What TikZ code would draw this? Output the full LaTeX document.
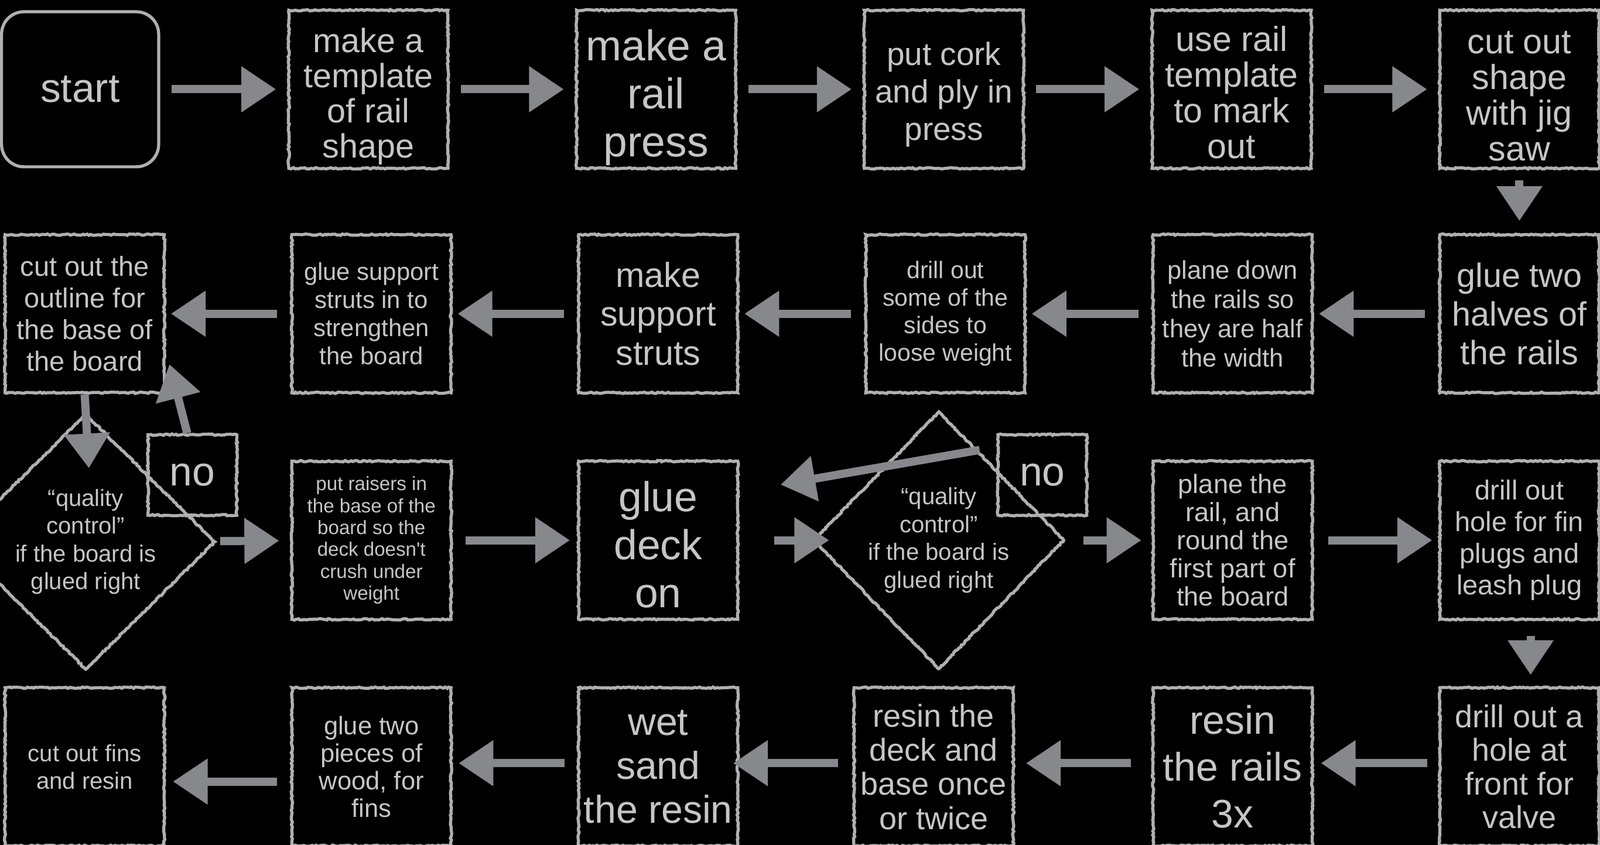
\documentclass[tikz,border=0pt]{standalone}
\usepackage{fontspec}
\newfontfamily\chalk{Liberation Sans}
\usetikzlibrary{arrows.meta,shapes.geometric,decorations.pathmorphing}
\definecolor{edgec}{HTML}{B0B0B0}
\definecolor{txtc}{HTML}{C6C6C6}
\definecolor{arrc}{HTML}{87888C}
\begin{document}
\begin{tikzpicture}[x=1pt,y=-1pt,
  chalkline/.style={decorate, decoration={random steps,segment length=2pt,amplitude=0.7pt}},
  fs/.style 2 args={font=\chalk\fontsize{#1}{#2}\selectfont},
  plainbox/.style={draw=edgec, line width=3pt, minimum width=156pt, minimum height=155pt, inner sep=0pt, align=center, text=txtc},
  box/.style={plainbox, chalkline},
  dia/.style={diamond, draw=edgec, line width=3pt, chalkline, inner sep=0pt, aspect=1, align=center, text=txtc, fs={23}{27.3}},
  nobox/.style={draw=edgec, line width=3pt, chalkline, minimum width=87pt, minimum height=79pt, inner sep=0pt, text=txtc, fs={40}{42}},
  flow/.style={draw=arrc, line width=8pt, -{Triangle[length=34pt,width=43pt]}},
]
\fill[black] (0,0) rectangle (1568,828);
\useasboundingbox (0,0) rectangle (1568,828);

% row 1
\node[plainbox, rounded corners=22pt, minimum width=154pt, minimum height=152pt, fs={40}{44}] (start) at (78.5,87.5) {start};
\node[box, fs={33}{34.5}] (n2) at (361,87.5) {\rule{0pt}{38pt}make a\\template\\of rail\\shape};
\node[box, fs={42}{47}] (n3) at (643,87.5) {\rule{0pt}{47pt}make a\\rail\\press};
\node[box, fs={31.5}{36.5}] (n4) at (925,87.5) {\rule{0pt}{33pt}put cork\\and ply in\\press};
\node[box, fs={34}{35}] (n5) at (1207,87.5) {\rule{0pt}{31pt}use rail\\template\\to mark\\out};
\node[box, fs={34}{35}] (n6) at (1489,87.5) {\rule{0pt}{35pt}cut out\\shape\\with jig\\saw};

% row 2
\node[box, fs={33}{38}] (m6) at (1489,307.5) {glue two\\halves of\\the rails};
\node[box, fs={25}{28.7}] (m5) at (1208,307.5) {plane down\\the rails so\\they are half\\the width};
\node[box, fs={23.5}{27}] (m4) at (926.5,307.5) {drill out\\some of the\\sides to\\loose weight};
\node[box, fs={34}{38}] (m3) at (645,307.5) {make\\support\\struts};
\node[box, fs={24}{27.5}] (m2) at (364,307.5) {glue support\\struts in to\\strengthen\\the board};
\node[box, fs={27}{31}] (m1) at (83,307.5) {cut out the\\outline for\\the base of\\the board};

% row 3
\node[dia, minimum width=254pt, minimum height=251pt] (d1) at (84,531) {“quality\\control”\\if the board is\\glued right};
\node[nobox] (no1) at (188.5,465.5) {no};
\node[box, fs={19}{21.4}] (p2) at (364,529.5) {put raisers in\\the base of the\\board so the\\deck doesn't\\crush under\\weight};
\node[box, fs={41}{47}] (p3) at (645,529.5) {\rule{0pt}{38pt}glue\\deck\\on};
\node[dia, minimum width=246pt, minimum height=253pt] (d2) at (920,529.5) {“quality\\control”\\if the board is\\glued right};
\node[nobox] (no2) at (1021.5,465.5) {no};
\node[box, fs={26}{27.5}] (p5) at (1208,529.5) {plane the\\rail, and\\round the\\first part of\\the board};
\node[box, fs={27}{31}] (p6) at (1489,529.5) {drill out\\hole for fin\\plugs and\\leash plug};

% row 4
\node[box, fs={31}{33}] (q6) at (1489,751.5) {drill out a\\hole at\\front for\\valve};
\node[box, fs={39}{46}] (q5) at (1208,751.5) {resin\\the rails\\3x};
\node[box, fs={31}{33.5}] (q4) at (915,751.5) {resin the\\deck and\\base once\\or twice};
\node[box, fs={38}{43}] (q3) at (645,751.5) {wet\\sand\\the resin};
\node[box, fs={25}{27}] (q2) at (364,751.5) {glue two\\pieces of\\wood, for\\fins};
\node[box, fs={23}{27}] (q1) at (83,751.5) {cut out fins\\and resin};

\coordinate (c1) at (166,357);
\coordinate (s2) at (960,441);
\coordinate (c2) at (765,475);

% connectors row 1
\draw[flow, shorten <=11pt, shorten >=11pt] (start) -- (n2);
\draw[flow, shorten <=11pt, shorten >=11pt] (n2) -- (n3);
\draw[flow, shorten <=11pt, shorten >=11pt] (n3) -- (n4);
\draw[flow, shorten <=11pt, shorten >=11pt] (n4) -- (n5);
\draw[flow, shorten <=11pt, shorten >=11pt] (n5) -- (n6);
\draw[flow, shorten <=10pt, shorten >=12pt] (n6) -- (m6);
% row 2
\draw[flow, shorten <=13pt, shorten >=5pt] (m6) -- (m5);
\draw[flow, shorten <=13pt, shorten >=5pt] (m5) -- (m4);
\draw[flow, shorten <=13pt, shorten >=5pt] (m4) -- (m3);
\draw[flow, shorten <=13pt, shorten >=5pt] (m3) -- (m2);
\draw[flow, shorten <=13pt, shorten >=5pt] (m2) -- (m1);
\draw[flow, shorten >=-55pt] (m1.south) -- (d1.north);
% row 3
\draw[flow] ([xshift=-5pt]no1.north) -- (c1);
\draw[flow, shorten <=4pt, shorten >=11pt] (d1) -- (p2);
\draw[flow, shorten <=13pt, shorten >=7pt] (p2) -- (p3);
\draw[flow, shorten <=34pt, shorten >=-17pt] (p3) -- (d2);
\draw[flow] (s2) -- (c2);
\draw[flow, shorten <=17pt, shorten >=10pt] (d2) -- (p5);
\draw[flow, shorten <=14pt, shorten >=6pt] (p5) -- (p6);
\draw[flow, shorten <=15pt, shorten >=11pt] ([xshift=11pt]p6.south) -- ([xshift=11pt]q6.north);
% row 4
\draw[flow, shorten <=11pt, shorten >=7pt] ([yshift=3.5pt]q6.west) -- ([yshift=3.5pt]q5.east);
\draw[flow, shorten <=20pt, shorten >=11pt] ([yshift=3.5pt]q5.west) -- ([yshift=3.5pt]q4.east);
\draw[flow, shorten <=14pt, shorten >=-6pt] ([yshift=3.5pt]q4.west) -- ([yshift=3.5pt]q3.east);
\draw[flow, shorten <=12pt, shorten >=6pt] ([yshift=3.5pt]q3.west) -- ([yshift=3.5pt]q2.east);
\draw[flow, shorten <=13pt, shorten >=7pt] ([yshift=-14.5pt]q2.west) -- ([yshift=-14.5pt]q1.east);
\end{tikzpicture}
\end{document}
